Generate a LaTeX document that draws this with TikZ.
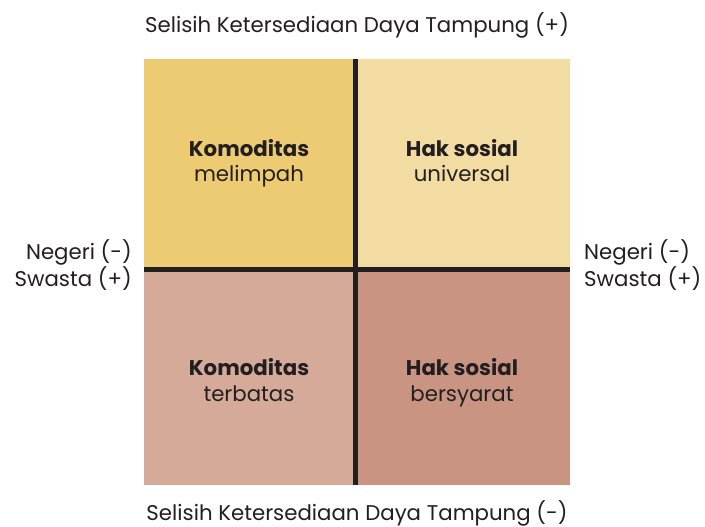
\documentclass[tikz,border=0pt]{standalone}
\usepackage{fontspec}
\setmainfont{Poppins}
\definecolor{gold}{HTML}{EDCB73}
\definecolor{cream}{HTML}{F3DCA2}
\definecolor{rose}{HTML}{D6AA98}
\definecolor{clay}{HTML}{C99482}
\definecolor{ink}{HTML}{231F20}
\tikzset{
  every node/.style={text=ink,font=\fontsize{21.3}{25.5}\selectfont,inner sep=0pt},
  quad/.style={align=center,anchor=base},
  side/.style={align=right,anchor=east},
  sider/.style={align=left,anchor=west},
  axis/.style={draw=ink,line width=5pt}
}
\begin{document}
\begin{tikzpicture}[x=1pt,y=-1pt]
      \useasboundingbox (0,0) rectangle (705,527);
      \coordinate (c) at (355.5,269.5);
      \coordinate (n) at (355.5,59);
      \coordinate (s) at (355.5,485);
      \coordinate (w) at (144,269.5);
      \coordinate (e) at (570,269.5);

      \fill[gold] (144,59) rectangle (c);
      \fill[cream] (570,59) rectangle (c);
      \fill[rose] (144,485) rectangle (c);
      \fill[clay] (570,485) rectangle (c);

      \node [quad] (A) at (249,182) {\textbf{Komoditas}\\melimpah};
      \node [quad] (B) at (462,182) {\textbf{Hak sosial}\\universal};
      \node [quad] (C) at (249,401) {\textbf{Komoditas}\\terbatas};
      \node [quad] (D) at (462,401) {\textbf{Hak sosial}\\bersyarat};

      \node (top) at (357,25) {Selisih Ketersediaan Daya Tampung (+)};
      \node (bot) at (357,513) {Selisih Ketersediaan Daya Tampung (-)};
      \node [side] (L) at (132,265) {Negeri (-)\\Swasta (+)};
      \node [sider] (R) at (584,265) {Negeri (-)\\Swasta (+)};

      \foreach \from/\to in {n/s,w/e}
        \draw [axis] (\from) -- (\to);
    \end{tikzpicture}
\end{document}
